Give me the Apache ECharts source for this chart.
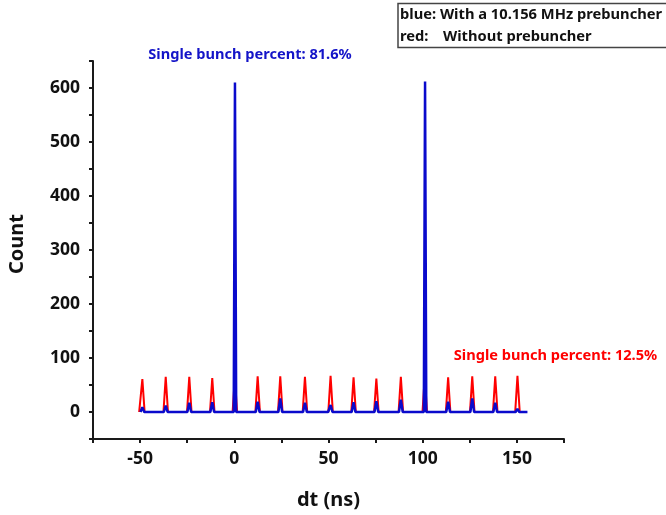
<!DOCTYPE html>
<html>
<head>
<meta charset="utf-8">
<script src="https://cdn.jsdelivr.net/npm/echarts@6/dist/echarts.min.js"></script>
<style>
  html, body { margin: 0; padding: 0; background: #fff; }
  #chart { width: 666px; height: 515px; }
</style>
</head>
<body>
<div id="chart"></div>
<script>
// Time-of-flight histograms: arrival time dt (ns) vs counts
const FONT = 'Noto Sans';

// Without prebuncher (red trace)
const redT = [-50.5, -50.0, -48.8, -47.6, -37.6, -36.4, -35.2, -25.1, -23.9, -22.7,
  -12.9, -11.7, -10.5, -0.9, 0.3, 1.5, 11.2, 12.4, 13.6, 23.2, 24.4, 25.6,
  36.3, 37.5, 38.7, 49.9, 51.1, 52.3, 62.1, 63.3, 64.5, 74.2, 75.4, 76.6,
  87.2, 88.4, 89.6, 99.9, 101.1, 102.3, 112.3, 113.5, 114.7, 125.1, 126.3, 127.5,
  137.3, 138.5, 139.7, 149.1, 150.3, 151.5, 152.0];
const redCount = [0, 0, 61, 0, 0, 65, 0, 0, 65, 0,
  0, 63, 0, 0, 64, 0, 0, 66, 0, 0, 66, 0,
  0, 65, 0, 0, 67, 0, 0, 64, 0, 0, 62, 0,
  0, 65, 0, 0, 67, 0, 0, 64, 0, 0, 66, 0,
  0, 66, 0, 0, 67, 0, 0];

// With the 10.156 MHz prebuncher (blue trace)
const blueT = [-49.8, -48.8, -47.8, -37.4, -36.4, -35.4, -24.9, -23.9, -22.9,
  -12.7, -11.7, -10.7, -0.3, 0.35, 1.0, 11.4, 12.4, 13.4, 23.4, 24.4, 25.4,
  36.5, 37.5, 38.5, 48.6, 49.2, 49.8, 50.1, 51.1, 52.1, 62.3, 63.3, 64.3,
  74.4, 75.4, 76.4, 87.4, 88.4, 89.4, 100.6, 101.25, 101.9, 112.5, 113.5, 114.5,
  125.3, 126.3, 127.3, 137.5, 138.5, 139.5, 149.3, 150.3, 151.3, 155.6];
const blueCount = [0, 9, 0, 0, 12, 0, 0, 17, 0,
  0, 18, 0, 0, 610, 0, 0, 19, 0, 0, 25, 0,
  0, 17, 0, 0, 3, 0, 0, 13, 0, 0, 18, 0,
  0, 20, 0, 0, 23, 0, 0, 612, 0, 0, 19, 0,
  0, 25, 0, 0, 17, 0, 0, 6, 0, 0];

// Axis extents and labelled ticks
const xRange = [-75, 175];
const yRange = [-50, 650];
const xLabels = [-50, 0, 50, 100, 150];
const yLabels = [0, 100, 200, 300, 400, 500, 600];

const noteBlue = 'Single bunch percent: 81.6%';
const noteRed = 'Single bunch percent: 12.5%';
const legendLine1 = 'blue: With a 10.156 MHz prebuncher';
const legendRedKey = 'red:';
const legendRedText = 'Without prebuncher';

const pairs = (xs, ys) => xs.map((x, i) => [x, ys[i]]);

const chart = echarts.init(document.getElementById('chart'), null, { renderer: 'canvas' });

const axisCommon = {
  type: 'value',
  axisLine: { show: true, onZero: false, lineStyle: { color: '#1a1a1a', width: 2 } },
  axisTick: { show: true, inside: false, length: 4, lineStyle: { color: '#1a1a1a', width: 2 } },
  splitLine: { show: false },
  axisLabel: { color: '#111', fontFamily: FONT, fontWeight: 'bold', fontSize: 17.5 }
};

chart.setOption({
  animation: false,
  backgroundColor: '#fff',
  grid: { left: 93, right: 102, top: 61, bottom: 72, containLabel: false },
  xAxis: Object.assign({}, axisCommon, {
    min: xRange[0], max: xRange[1], interval: 25,
    name: 'dt (ns)', nameLocation: 'middle', nameGap: 51,
    nameTextStyle: { fontFamily: FONT, fontWeight: 'bold', fontSize: 20, color: '#111' },
    axisLabel: Object.assign({}, axisCommon.axisLabel, {
      margin: 11,
      formatter: v => xLabels.includes(v) ? String(v) : ''
    })
  }),
  yAxis: Object.assign({}, axisCommon, {
    min: yRange[0], max: yRange[1], interval: 50,
    axisLabel: Object.assign({}, axisCommon.axisLabel, {
      margin: 13,
      formatter: v => yLabels.includes(v) ? String(v) : ''
    })
  }),
  series: [
    {
      name: 'Without prebuncher', type: 'line', data: pairs(redT, redCount),
      showSymbol: false, symbol: 'none',
      lineStyle: { color: '#ff0000', width: 2 }, z: 2
    },
    {
      name: 'With a 10.156 MHz prebuncher', type: 'line', data: pairs(blueT, blueCount),
      showSymbol: false, symbol: 'none',
      lineStyle: { color: '#0a0acc', width: 2.5 }, z: 3
    }
  ],
  graphic: [
    {
      type: 'text', left: 7, top: 214, rotation: Math.PI / 2,
      style: { text: 'Count', fontFamily: FONT, fontWeight: 'bold', fontSize: 20, fill: '#111' }
    },
    {
      type: 'text', x: 250, y: 55,
      style: { text: noteBlue, fontFamily: FONT, fontWeight: 'bold', fontSize: 14.6,
        fill: '#1414c8', align: 'center', verticalAlign: 'middle' }
    },
    {
      type: 'text', x: 555.5, y: 356,
      style: { text: noteRed, fontFamily: FONT, fontWeight: 'bold', fontSize: 14.6,
        fill: '#ff0000', align: 'center', verticalAlign: 'middle' }
    },
    {
      type: 'rect', shape: { x: 398, y: 3.5, width: 280, height: 44 },
      style: { fill: '#fff', stroke: '#444', lineWidth: 1.5 }
    },
    {
      type: 'text', x: 400, y: 15,
      style: { text: legendLine1, fontFamily: FONT, fontWeight: 'bold', fontSize: 14.7,
        fill: '#111', verticalAlign: 'middle' }
    },
    {
      type: 'text', x: 400, y: 37,
      style: { text: legendRedKey, fontFamily: FONT, fontWeight: 'bold', fontSize: 14.7,
        fill: '#111', verticalAlign: 'middle' }
    },
    {
      type: 'text', x: 443, y: 37,
      style: { text: legendRedText, fontFamily: FONT, fontWeight: 'bold', fontSize: 14.7,
        fill: '#111', verticalAlign: 'middle' }
    }
  ]
});
</script>
</body>
</html>
